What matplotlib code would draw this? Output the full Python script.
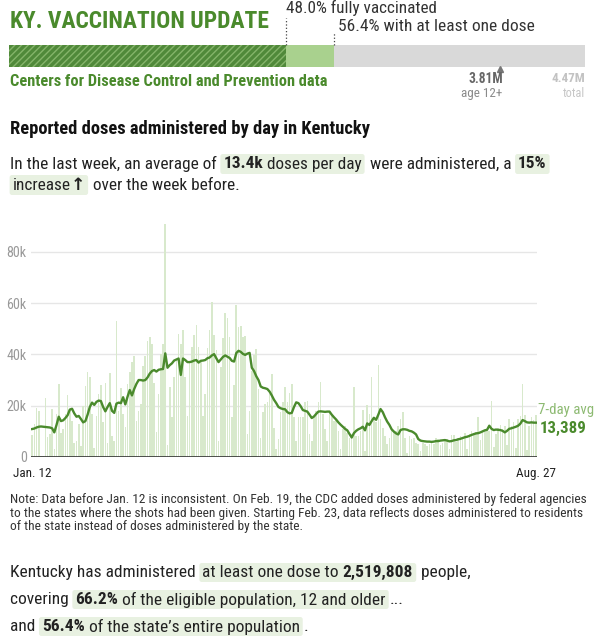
import matplotlib
matplotlib.use("Agg")
import matplotlib.pyplot as plt
from matplotlib import font_manager
from matplotlib.patches import FancyBboxPatch
import numpy as np

W, H = 597, 640

# pick the narrowest sans that is installed, keep DejaVu as glyph fallback
installed = {f.name for f in font_manager.fontManager.ttflist}
BASE = "DejaVu Sans"
for cand in ["Roboto Condensed", "Liberation Sans Narrow", "DejaVu Sans Condensed",
             "Noto Sans Condensed", "Roboto"]:
    if cand in installed:
        BASE = cand
        break
FONT = [BASE, "DejaVu Sans"]
plt.rcParams["font.family"] = FONT

GREEN = "#4a8a2c"
LIGHT_GREEN = "#a9d18e"
BAR_GREEN = "#d8e9cc"
HL = "#e8f1e1"

# summary numbers
fully_pct = 48.0
one_dose_pct = 56.4
pop_12plus = 3.81
pop_total = 4.47

# daily doses (thousands), Jan. 12 .. Aug. 27
doses = [
    8.5, 12.8, 19.0, 18.0, 0.5, 0.5, 23.0, 7.8, 8.9, 18.7,
    3.0, 16.7, 28.5, 9.3, 10.8, 16.7, 24.3, 18.7, 14.0, 5.6,
    6.3, 12.8, 4.3, 20.0, 27.8, 33.0, 31.0, 16.7, 3.7, 16.0,
    24.5, 28.2, 13.5, 28.9, 5.6, 32.7, 8.2, 6.3, 53.0, 18.0,
    26.8, 16.7, 11.8, 28.5, 33.0, 37.0, 39.2, 14.0, 18.0, 20.6,
    35.3, 39.2, 45.2, 46.8, 44.2, 28.8, 9.8, 24.6, 40.3, 44.0,
    91.0, 4.6, 27.2, 15.4, 31.0, 37.9, 48.0, 44.0, 49.4, 31.0,
    16.0, 37.6, 42.9, 47.5, 51.4, 42.9, 37.6, 16.0, 24.6, 42.5,
    49.4, 60.3, 47.5, 41.6, 6.3, 35.0, 46.2, 56.0, 54.0, 46.8,
    15.4, 28.0, 59.2, 50.7, 51.0, 46.8, 47.0, 8.9, 18.0, 33.7,
    39.6, 42.2, 26.5, 7.6, 17.4, 20.6, 21.3, 24.6, 32.2, 11.5,
    3.0, 6.9, 17.4, 21.3, 27.2, 21.3, 25.0, 28.5, 15.4, 6.3,
    15.4, 15.4, 15.4, 21.3, 22.0, 8.9, 6.3, 16.0, 18.0, 21.3,
    29.2, 16.7, 10.8, 6.3, 18.0, 16.0, 14.0, 14.8, 10.2, 3.0,
    10.8, 12.2, 9.5, 7.6, 8.9, 27.2, 8.2, 8.2, 10.2, 18.4,
    2.4, 20.4, 16.7, 31.0, 15.4, 13.5, 35.7, 14.8, 11.5, 8.2,
    5.0, 7.6, 11.5, 10.2, 10.2, 12.2, 14.8, 17.4, 7.6, 1.7,
    8.2, 6.9, 7.6, 5.6, 5.0, 2.4, 5.6, 5.2, 4.3, 5.0,
    5.6, 5.0, 7.5, 6.9, 4.5, 5.5, 6.9, 7.2, 3.0, 8.6,
    8.6, 6.0, 7.5, 8.0, 7.0, 9.5, 3.0, 9.0, 10.0, 9.5,
    9.8, 15.4, 6.5, 10.0, 10.5, 11.0, 10.0, 21.7, 4.0, 8.9,
    11.5, 12.5, 11.0, 12.0, 4.5, 14.8, 12.0, 13.5, 3.5, 15.0,
    16.0, 28.5, 16.5, 2.6, 12.2, 15.4, 14.5, 16.5,
]

# 7-day average (thousands)
avg7 = [
    10.9, 11.1, 11.5, 11.8, 11.9, 11.8, 11.7, 11.6, 11.5, 11.2,
    9.6, 12.5, 15.7, 14.0, 14.3, 15.2, 16.3, 18.5, 18.8, 17.0,
    15.7, 16.0, 14.8, 13.5, 14.0, 16.5, 19.5, 21.2, 20.3, 21.5,
    22.0, 21.8, 19.5, 17.8, 19.5, 21.0, 18.0, 17.2, 20.8, 21.2,
    21.0, 23.3, 20.5, 23.5, 26.1, 24.0, 26.5, 28.5, 30.0, 30.0,
    29.8, 30.0, 31.0, 32.5, 33.5, 33.9, 33.3, 34.0, 34.2, 34.3,
    40.4, 34.8, 35.8, 36.5, 37.6, 38.0, 38.4, 32.0, 38.4, 37.8,
    37.0, 37.0, 37.2, 37.6, 37.8, 36.8, 37.5, 37.6, 37.8, 38.5,
    38.8, 39.6, 40.1, 38.5, 37.0, 38.0, 39.0, 39.6, 39.1, 38.6,
    37.5, 37.2, 40.5, 41.4, 41.0, 40.2, 39.8, 40.3, 40.6, 34.8,
    33.5, 31.5, 30.0, 27.5, 27.0, 26.8, 26.5, 25.5, 24.0, 22.3,
    21.0, 19.5, 19.0, 18.7, 18.6, 17.5, 17.0, 17.2, 19.5, 21.3,
    21.0, 19.8, 18.3, 18.0, 17.7, 16.5, 15.2, 15.8, 16.8, 17.7,
    17.8, 17.7, 17.6, 17.7, 17.7, 16.5, 15.5, 14.6, 13.5, 12.6,
    11.8, 11.0, 10.4, 9.0, 7.6, 9.3, 10.2, 10.8, 11.2, 11.8,
    10.4, 13.1, 12.5, 14.0, 15.3, 14.5, 16.5, 18.7, 17.5, 15.5,
    13.8, 12.5, 10.8, 9.9, 9.2, 8.8, 10.5, 10.8, 10.8, 10.6,
    10.2, 10.0, 9.5, 8.8, 7.0, 6.4, 6.2, 6.1, 6.0, 6.0,
    5.9, 6.0, 6.2, 6.2, 6.4, 6.5, 6.6, 6.4, 6.1, 6.2,
    6.5, 6.6, 6.9, 7.1, 7.4, 7.7, 7.9, 8.2, 8.6, 8.9,
    9.2, 9.3, 9.6, 10.0, 10.4, 10.6, 12.2, 11.0, 10.5, 10.7,
    10.6, 10.5, 10.2, 9.6, 10.2, 11.0, 11.2, 11.5, 11.8, 12.2,
    13.0, 14.4, 14.0, 13.5, 13.4, 13.5, 13.4, 13.389,
]

x_labels = ["Jan. 12", "Aug. 27"]
y_ticks = [0, 20, 40, 60, 80]
y_tick_labels = ["0", "20k", "40k", "60k", "80k"]
last_avg_label = "13,389"

note_lines = [
    "Note: Data before Jan. 12 is inconsistent. On Feb. 19, the CDC added doses administered by federal agencies",
    "to the states where the shots had been given. Starting Feb. 23, data reflects doses administered to residents",
    "of the state instead of doses administered by the state.",
]

# (text, bold, highlighted)
para1 = [
    [("In the last week, an average of ", False, False), ("13.4k", True, True),
     (" doses per day", False, True), (" were administered, a ", False, False),
     ("15%", True, True)],
    [("increase", False, True), ("\u2191", True, True), (" over the week before.", False, False)],
]
para2 = [
    [("Kentucky has administered ", False, False), ("at least one dose to ", False, True),
     ("2,519,808", True, True), (" people,", False, False)],
    [("covering ", False, False), ("66.2%", True, True),
     (" of the eligible population, 12 and older", False, True), ("...", False, False)],
    [("and ", False, False), ("56.4%", True, True),
     (" of the state\u2019s entire population", False, True), (".", False, False)],
]


def fx(px):
    return px / W


def fy(py):
    return 1 - py / H


fig = plt.figure(figsize=(W / 100, H / 100), dpi=100)
renderer = fig.canvas.get_renderer()


def text_width(s, size, bold=False):
    # guard char so that leading/trailing spaces count
    wt = "bold" if bold else "normal"
    a = fig.text(0, 0, s + "|", fontsize=size, fontweight=wt)
    b = fig.text(0, 0, "|", fontsize=size, fontweight=wt)
    w = a.get_window_extent(renderer).width - b.get_window_extent(renderer).width
    a.remove()
    b.remove()
    return w


def fit(s, target, bold=False):
    return 10 * target / text_width(s, 10, bold)


def line_pad(parts):
    n = sum(1 for i, p in enumerate(parts) if p[2] and (i == 0 or not parts[i - 1][2]))
    return 7 * n


def fit_line(parts, target):
    natural = sum(text_width(s, 10, b) for s, b, _ in parts)
    return 10 * (target - line_pad(parts)) / natural


def rich_line(x0, yc, parts, size, box_h=20, color="#222222"):
    """One line of text pieces, some bold, some on a green highlight."""
    x = x0
    start = None
    for i, (s, bold, hl) in enumerate(parts):
        if hl and start is None:
            start = x
            x += 3
        fig.text(fx(x), fy(yc), s, fontsize=size, color=color, va="center", ha="left",
                 fontweight="bold" if bold else "normal", zorder=3)
        x += text_width(s, size, bold)
        nxt_hl = parts[i + 1][2] if i + 1 < len(parts) else False
        if hl and not nxt_hl:
            x += 3
            fig.patches.append(FancyBboxPatch(
                (fx(start), fy(yc + box_h / 2)), fx(x - start), box_h / H,
                boxstyle="round,pad=0,rounding_size=0.004", transform=fig.transFigure,
                facecolor=HL, edgecolor="none", zorder=1))
            x += 1
            start = None


# ---- header ----
fig.text(fx(9.6), fy(21), "KY. VACCINATION UPDATE",
         fontsize=fit("KY. VACCINATION UPDATE", 258, True), fontweight="bold",
         color=GREEN, va="center", ha="left")
src = "Centers for Disease Control and Prevention data"
fig.text(fx(9.6), fy(82), src, fontsize=fit(src, 317, True),
         fontweight="bold", color=GREEN, va="center", ha="left")

axb = fig.add_axes([fx(9.4), fy(66.5), fx(585 - 9.4), 22 / H])
axb.set_xlim(0, 100)
axb.set_ylim(-0.5, 0.5)
axb.axis("off")
axb.barh(0, 100, height=1, color="#d9d9d9", lw=0)
axb.barh(0, one_dose_pct, height=1, color=LIGHT_GREEN, lw=0)
axb.barh(0, fully_pct, height=1, color="#50893a", edgecolor="#85b46a", hatch="/////", lw=0)
axb.plot([fully_pct, fully_pct], [0.5, 1.7], ls=":", color="#444444", lw=0.9, clip_on=False)
axb.plot([one_dose_pct, one_dose_pct], [0.5, 1.07], ls=":", color="#444444", lw=0.9, clip_on=False)
t1 = f"{fully_pct:.1f}% fully vaccinated"
axb.text(fully_pct, 2.15, t1, fontsize=fit(t1, 150), color="#333333",
         va="center", ha="left", clip_on=False)
t2 = f"{one_dose_pct:.1f}% with at least one dose"
axb.annotate(t2, (one_dose_pct, 1.34), xytext=(2.9, 0), textcoords="offset points",
             fontsize=fit(t2, 194), color="#333333", va="center", ha="left",
             annotation_clip=False)
eligible = pop_12plus / pop_total * 100
axb.plot([eligible], [-0.61], marker="^", ms=4, color="#777777", clip_on=False)
t3 = f"{pop_12plus:.2f}M"
axb.annotate(t3, (eligible, -1.06), xytext=(2.5, 0), textcoords="offset points",
             fontsize=fit(t3, 35, True), fontweight="bold", color="#666666", va="center",
             ha="right", annotation_clip=False)
axb.annotate("age 12+", (eligible, -1.72), xytext=(1.4, 0), textcoords="offset points",
             fontsize=fit("age 12+", 41), color="#8a8a8a", va="center", ha="right",
             annotation_clip=False)
t4 = f"{pop_total:.2f}M"
axb.text(100, -1.06, t4, fontsize=fit(t4, 34, True), fontweight="bold", color="#c2c2c2",
         va="center", ha="right", clip_on=False)
axb.text(100, -1.72, "total", fontsize=fit("total", 22), color="#c6c6c6", va="center",
         ha="right", clip_on=False)

# ---- chart intro ----
sub = "Reported doses administered by day in Kentucky"
fig.text(fx(9.6), fy(129.5), sub, fontsize=fit(sub, 362, True),
         fontweight="bold", color="#111111", va="center", ha="left")
p1_size = fit_line(para1[0], 546 - 9.6)
rich_line(9.6, 164, para1[0], p1_size)
rich_line(9.6, 185, para1[1], p1_size)

# ---- daily chart ----
days = np.arange(len(doses))
ax = fig.add_axes([fx(31), fy(457), fx(537 - 31), (457 - 221) / H])
ax.bar(days, doses, width=0.72, color=BAR_GREEN, lw=0, zorder=2)
ax.plot(days, avg7, color=GREEN, lw=1.7, zorder=3, solid_joinstyle="round")
ax.set_xlim(-0.5, len(doses) - 0.5)
ax.set_ylim(0, 92)
ax.set_yticks(y_ticks)
ax.set_yticklabels(y_tick_labels)
ax.yaxis.grid(True, color="#e6e6e6", lw=1, zorder=0)
ax.set_axisbelow(True)
for sp in ax.spines.values():
    sp.set_visible(False)
ax.axhline(0, color="#333333", lw=1.2, zorder=4)
ax.tick_params(axis="y", length=0, pad=3, labelsize=fit("80k", 20), labelcolor="#999999")
ax.set_xticks([days[0], days[-1]])
ax.set_xticklabels(x_labels)
ax.tick_params(axis="x", length=0, pad=7, labelsize=fit("Jan. 12", 38), labelcolor="#222222")
ax.annotate("7-day avg", (days[-1], avg7[-1]), xytext=(1.5, 9), textcoords="offset points",
            fontsize=fit("7-day avg", 56), color="#8dba72", va="center", ha="left",
            annotation_clip=False)
ax.annotate(last_avg_label, (days[-1], avg7[-1]), xytext=(2.5, -4), textcoords="offset points",
            fontsize=fit(last_avg_label, 47, True), fontweight="bold", color=GREEN,
            va="center", ha="left", annotation_clip=False)

# ---- note ----
note_size = fit(note_lines[0], 571)
for i, line in enumerate(note_lines):
    fig.text(fx(9.6), fy(499.3 + i * 13.7), line, fontsize=note_size, color="#333333",
             va="center", ha="left")

# ---- summary ----
p2_size = fit_line(para2[0], 467 - 9.6)
for i, parts in enumerate(para2):
    rich_line(9.6, 572.5 + i * 27, parts, p2_size, box_h=19)

fig.savefig("out.png", dpi=100)
